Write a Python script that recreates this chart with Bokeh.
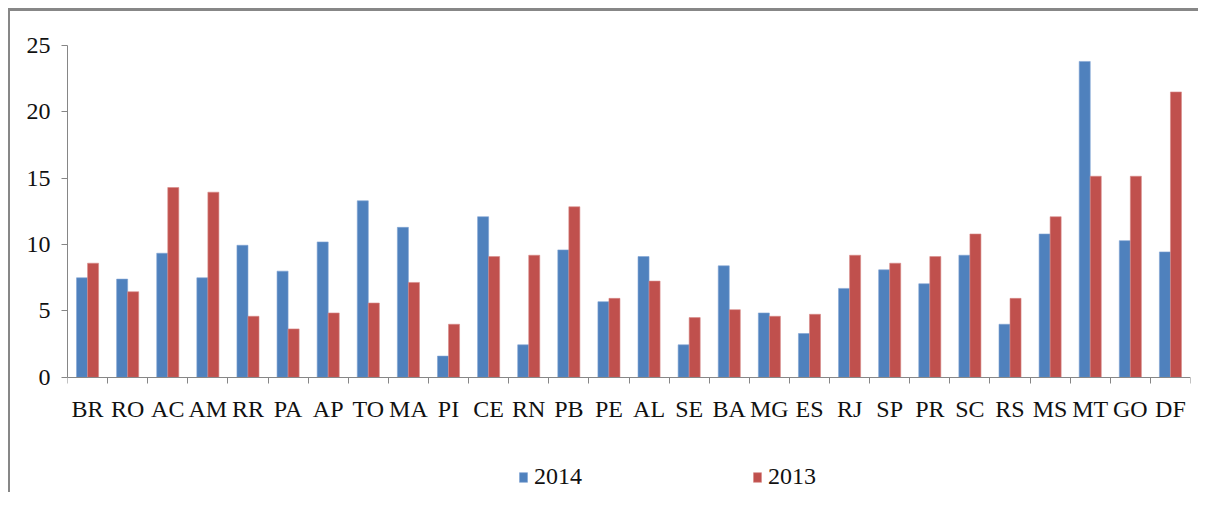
from bokeh.plotting import figure
from bokeh.models import ColumnDataSource, Range1d, FixedTicker, Legend, LegendItem
from bokeh.transform import dodge
from bokeh.embed import file_html
from bokeh.resources import INLINE

states = ["BR", "RO", "AC", "AM", "RR", "PA", "AP", "TO", "MA", "PI", "CE", "RN", "PB", "PE",
          "AL", "SE", "BA", "MG", "ES", "RJ", "SP", "PR", "SC", "RS", "MS", "MT", "GO", "DF"]
v2014 = [7.5, 7.4, 9.35, 7.5, 9.95, 8.0, 10.2, 13.3, 11.3, 1.6, 12.1, 2.45, 9.6, 5.7,
         9.1, 2.45, 8.4, 4.85, 3.3, 6.7, 8.1, 7.05, 9.2, 4.0, 10.8, 23.8, 10.3, 9.45]
v2013 = [8.6, 6.45, 14.3, 13.95, 4.6, 3.65, 4.85, 5.6, 7.15, 4.0, 9.1, 9.2, 12.85, 5.95,
         7.25, 4.5, 5.1, 4.6, 4.75, 9.2, 8.6, 9.1, 10.8, 5.95, 12.1, 15.15, 15.15, 21.5]
y_ticks = [0, 5, 10, 15, 20, 25]
series_names = ["2014", "2013"]

BLUE = "#4F81BD"
RED = "#C0504D"
GRAY = "#868686"
FONT = "Liberation Serif"

pos = [i + 1 for i in range(len(states))]
src = ColumnDataSource(dict(pos=pos, v2014=v2014, v2013=v2013, state=states))

# y range extends below zero so the legend can sit inside the frame;
# the x axis is pinned at y = 0
p = figure(width=1190, height=484, output_backend="svg", toolbar_location=None,
           x_range=Range1d(0.5, len(states) + 0.5), y_range=Range1d(-8.6, 25),
           min_border_left=57, min_border_right=10, min_border_top=34, min_border_bottom=4)
p.outline_line_color = None
p.xgrid.visible = False
p.ygrid.visible = False
p.background_fill_color = "white"
p.border_fill_color = "white"
p.styles = {"margin-left": "8px", "margin-top": "8px",
            "border-left": "2px solid #878787", "border-top": "3px solid #878787"}

bw = 0.275
r1 = p.vbar(x=dodge("pos", -bw / 2, range=p.x_range), top="v2014", width=bw, source=src,
            fill_color=BLUE, line_color="#7FA3D3", line_width=0.6)
r2 = p.vbar(x=dodge("pos", bw / 2, range=p.x_range), top="v2013", width=bw, source=src,
            fill_color=RED, line_color="#D68A88", line_width=0.6)

xa = p.xaxis[0]
xa.fixed_location = 0
xa.ticker = FixedTicker(ticks=pos, minor_ticks=[i + 0.5 for i in range(len(states) + 1)])
xa.major_label_overrides = {p_: s for p_, s in zip(pos, states)}
xa.major_tick_out = 0
xa.major_tick_in = 0
xa.minor_tick_out = 6
xa.minor_tick_in = 0
xa.minor_tick_line_color = GRAY
xa.axis_line_color = GRAY
xa.major_label_text_font = FONT
xa.major_label_text_font_size = "24px"
xa.major_label_text_color = "#111111"
xa.major_label_standoff = 13

ya = p.yaxis[0]
ya.bounds = (0, 25)
ya.ticker = FixedTicker(ticks=y_ticks)
ya.major_tick_out = 6
ya.major_tick_in = 0
ya.minor_tick_line_color = None
ya.major_tick_line_color = GRAY
ya.axis_line_color = GRAY
ya.major_label_text_font = FONT
ya.major_label_text_font_size = "24px"
ya.major_label_text_color = "#111111"
ya.major_label_standoff = 11

legend = Legend(items=[LegendItem(label=series_names[0], renderers=[r1]),
                       LegendItem(label=series_names[1], renderers=[r2])],
                orientation="horizontal", location=(451, 1),
                glyph_width=10, glyph_height=12, label_standoff=6, spacing=170,
                padding=0, margin=0, border_line_color=None, background_fill_alpha=0,
                label_text_font=FONT, label_text_font_size="24px", label_text_color="#111111")
p.add_layout(legend, "center")

open("out.html", "w").write(file_html(p, INLINE))
